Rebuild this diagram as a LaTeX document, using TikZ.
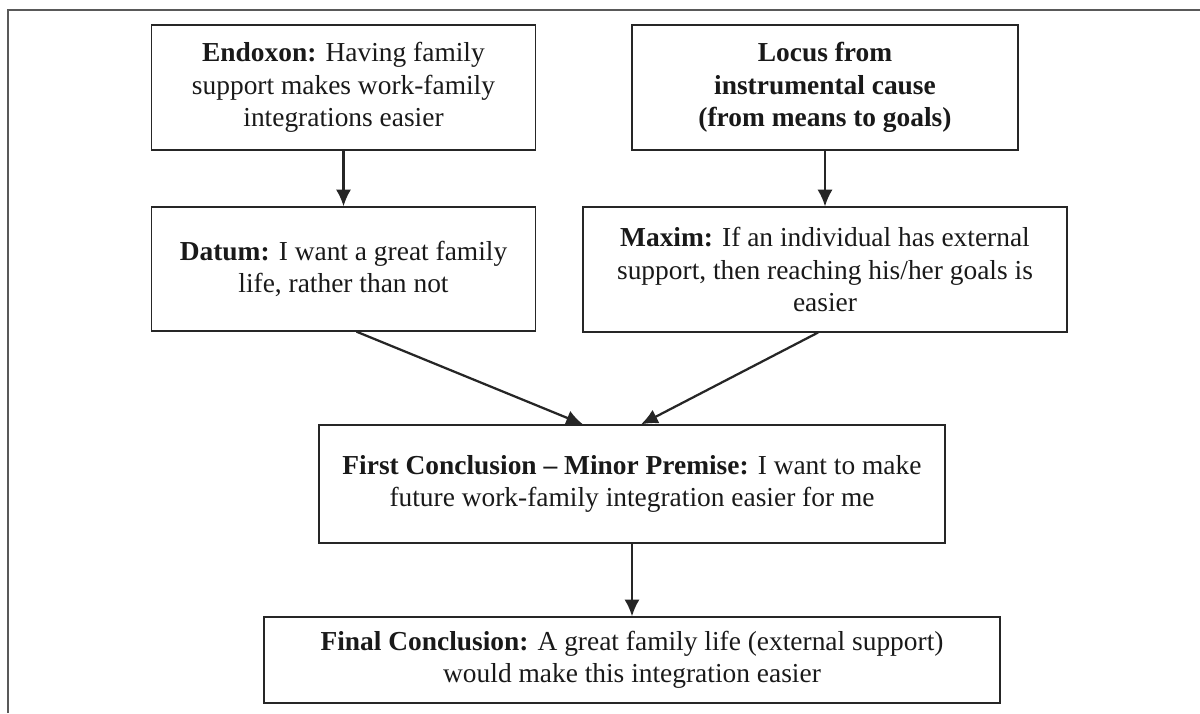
\documentclass[tikz,border=0pt]{standalone}
\usepackage{fontspec}
\setmainfont{Liberation Serif}
\usetikzlibrary{arrows.meta,calc}

\begin{document}
\begin{tikzpicture}[x=0.025cm,y=-0.025cm]

      \useasboundingbox (0,0) rectangle (1200,713);
      \draw[line width=1.1pt,black!65] (8,713) -- (8,10) -- (1200,10);

      \begin{scope}[every node/.style={draw,rectangle,line width=0.9pt,black!85,text=black!90,
          align=center,inner sep=0pt,font=\fontsize{19.5}{23}\selectfont}]
        \node[minimum width=9.58cm,minimum height=3.12cm] (endoxon) at (343.5,87.5)
          {\textbf{Endoxon:} Having family\\support makes work-family\\integrations easier};
        \node[minimum width=9.65cm,minimum height=3.12cm,font=\fontsize{19.5}{23}\selectfont\bfseries] (locus) at (825,87.5)
          {Locus from\\instrumental cause\\(from means to goals)};
        \node[minimum width=9.58cm,minimum height=3.10cm] (datum) at (343.5,269)
          {\textbf{Datum:} I want a great family\\life, rather than not};
        \node[minimum width=12.1cm,minimum height=3.12cm] (maxim) at (825,269.5)
          {\textbf{Maxim:} If an individual has external\\support, then reaching his/her goals is\\easier};
        \node[minimum width=15.65cm,minimum height=2.95cm] (first) at (632,484)
          {\textbf{First Conclusion -- Minor Premise:} I want to make\\future work-family integration easier for me};
        \node[minimum width=18.4cm,minimum height=2.15cm] (final) at (632,660)
          {\textbf{Final Conclusion:} A great family life (external support)\\would make this integration easier};
      \end{scope}

      \begin{scope}[every edge/.style={draw,line width=1.6pt,black!85,-{Latex[length=0.42cm,width=0.38cm]}}]
        \path (endoxon) edge (datum);
        \path (locus) edge (maxim);
        \path ($(datum.south)+(13,0)$) edge ($(first.north)+(-49,0)$);
        \path ($(maxim.south)+(-7,0)$) edge ($(first.north)+(9,0)$);
        \path (first) edge (final);
      \end{scope}

    \end{tikzpicture}
\end{document}
